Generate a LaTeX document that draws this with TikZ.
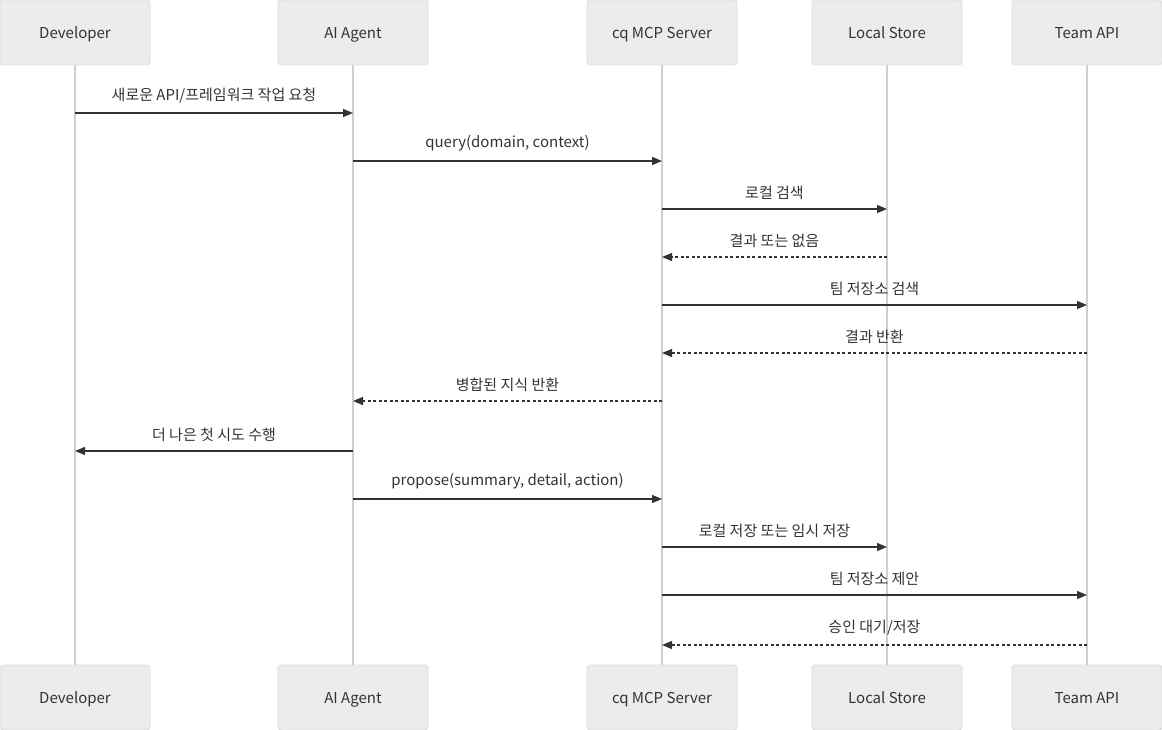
\documentclass[tikz,border=0pt]{standalone}
\usepackage{fontspec}
\setmainfont{Noto Sans CJK KR}
\usetikzlibrary{arrows.meta}
\definecolor{actorfill}{HTML}{ECECEC}
\definecolor{actorline}{HTML}{DCDCDC}
\definecolor{lifecolor}{HTML}{CFCFCF}
\definecolor{msgcolor}{HTML}{333333}
\newcommand{\msgfont}{\fontsize{15}{18}\selectfont}

\begin{document}
\begin{tikzpicture}[x=1pt,y=-1pt,
 actor/.style={draw=actorline,fill=actorfill,rounded corners=3pt,
               minimum width=150pt,minimum height=65pt,
               text height=14pt,text depth=2pt,
               font=\msgfont,text=msgcolor,line width=0.8pt},
 life/.style={draw=lifecolor,line width=1.6pt},
 msg/.style={draw=msgcolor,line width=1.3pt,
             -{Triangle[length=10pt,width=8pt]}},
 reply/.style={msg,dash pattern=on 3pt off 2.5pt},
 lbl/.style={above=9pt,inner sep=0pt,font=\msgfont,text=msgcolor}]
 \useasboundingbox (0,0) rectangle (1162,730);
 % actors, top and bottom
 \node[actor] (dev) at (75,32.5) {Developer};
 \node[actor] (agt) at (353,32.5) {AI Agent};
 \node[actor] (mcp) at (662,32.5) {cq MCP Server};
 \node[actor] (loc) at (887,32.5) {Local Store};
 \node[actor] (team) at (1087,32.5) {Team API};
 \node[actor] (devb) at (75,697.5) {Developer};
 \node[actor] (agtb) at (353,697.5) {AI Agent};
 \node[actor] (mcpb) at (662,697.5) {cq MCP Server};
 \node[actor] (locb) at (887,697.5) {Local Store};
 \node[actor] (teamb) at (1087,697.5) {Team API};
 % lifelines
 \foreach \a/\b in {dev/devb,agt/agtb,mcp/mcpb,loc/locb,team/teamb}
   \draw[life] (\a.south) -- (\b.north);
 % messages
 \draw[msg] (dev |- 0,113) -- node[lbl]{새로운 API/프레임워크 작업 요청} (agt |- 0,113);
 \draw[msg] (agt |- 0,161) -- node[lbl]{query(domain, context)} (mcp |- 0,161);
 \draw[msg] (mcp |- 0,209) -- node[lbl]{로컬 검색} (loc |- 0,209);
 \draw[reply] (loc |- 0,257) -- node[lbl]{결과 또는 없음} (mcp |- 0,257);
 \draw[msg] (mcp |- 0,305) -- node[lbl]{팀 저장소 검색} (team |- 0,305);
 \draw[reply] (team |- 0,353) -- node[lbl]{결과 반환} (mcp |- 0,353);
 \draw[reply] (mcp |- 0,401) -- node[lbl]{병합된 지식 반환} (agt |- 0,401);
 \draw[msg] (agt |- 0,451) -- node[lbl]{더 나은 첫 시도 수행} (dev |- 0,451);
 \draw[msg] (agt |- 0,499) -- node[lbl]{propose(summary, detail, action)} (mcp |- 0,499);
 \draw[msg] (mcp |- 0,547) -- node[lbl]{로컬 저장 또는 임시 저장} (loc |- 0,547);
 \draw[msg] (mcp |- 0,595) -- node[lbl]{팀 저장소 제안} (team |- 0,595);
 \draw[reply] (team |- 0,645) -- node[lbl]{승인 대기/저장} (mcp |- 0,645);
\end{tikzpicture}
\end{document}
